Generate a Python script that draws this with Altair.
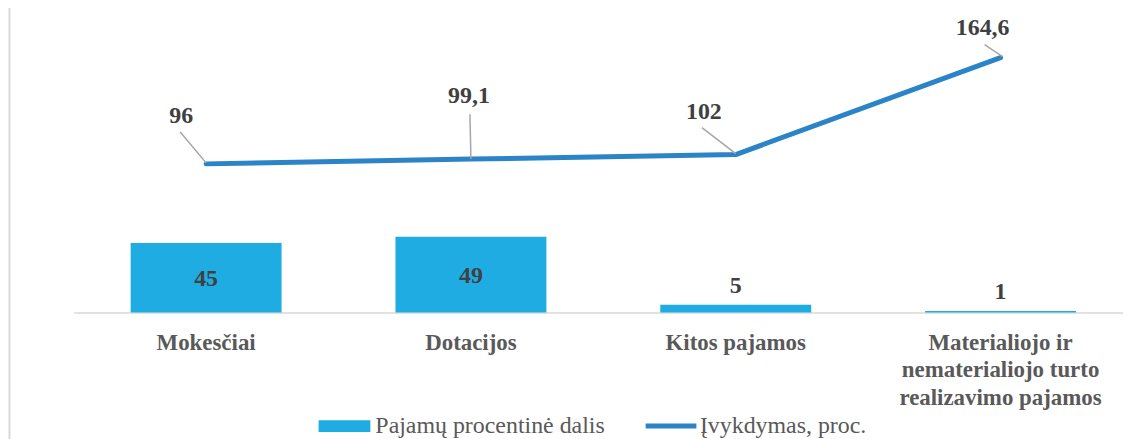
import altair as alt
import pandas as pd

# ---- data ----
CATEGORIES = ["Mokesčiai", "Dotacijos", "Kitos pajamos",
              "Materialiojo ir\nnematerialiojo turto\nrealizavimo pajamos"]
SHARE = [45, 49, 5, 1]                      # Pajamų procentinė dalis
PERFORMANCE = [96, 99.1, 102, 164.6]        # Įvykdymas, proc.
PERF_LABELS = ["96", "99,1", "102", "164,6"]
SERIES = ["Pajamų procentinė dalis", "Įvykdymas, proc."]

# ---- styles ----
BAR_COLOR = "#1FACE3"
LINE_COLOR = "#2B84C7"
LEADER_COLOR = "#A6A6A6"
FONT = "Liberation Serif"
# (leader start dx, dy, leader end dx, dy, label dx, dy) in pixels relative to each point
LEADERS = [(-26, -32, 0, -1, -25, -48),
           (-1, -45, 0, 0, -2, -63),
           (-34, -27, 0, -1, -32, -43),
           (-16, -13, 2, -1, -18, -30)]

df = pd.DataFrame({
    "idx": list(range(len(CATEGORIES))),
    "cat": CATEGORIES,
    "share": SHARE,
    "perf": PERFORMANCE,
    "perf_label": PERF_LABELS,
    "s1": SERIES[0],
    "s2": SERIES[1],
})

H = 305
xscale = alt.Scale(range=[0, 1064], paddingInner=0.43, paddingOuter=0.215)
yscale = alt.Scale(domain=[0, 196], nice=False, zero=True)

X = alt.X("cat:N", sort=CATEGORIES, scale=xscale,
          axis=alt.Axis(title=None, labelAngle=0, labelFont=FONT, labelFontSize=23,
                        labelFontWeight="bold", labelColor="#595959", labelPadding=19,
                        labelLineHeight=27.5, labelExpr="split(datum.label, '\\n')",
                        ticks=False, tickSize=0, domainColor="#D9D9D9", domainWidth=1.5,
                        labelLimit=0, grid=False))

base = alt.Chart(df)

bars = base.mark_bar().encode(
    x=X,
    y=alt.Y("share:Q", scale=yscale, axis=None),
    fill=alt.Fill("s1:N", scale=alt.Scale(domain=[SERIES[0]], range=[BAR_COLOR]),
                  legend=alt.Legend(title=None, orient="none", legendX=246, legendY=393,
                                    symbolType="M-1,-0.23L1,-0.23L1,0.23L-1,0.23Z",
                                    symbolSize=2704, symbolStrokeWidth=0,
                                    labelFont=FONT, labelFontSize=24, labelColor="#595959",
                                    labelOffset=5, padding=0, labelLimit=0)),
)

bar_big = base.transform_filter("datum.share >= 10").transform_calculate(
    mid="datum.share / 2").mark_text(
    font=FONT, fontSize=24, fontWeight="bold", color="#404040", baseline="middle", dy=1
).encode(x=alt.X("cat:N", sort=CATEGORIES), y=alt.Y("mid:Q", scale=yscale), text="share:Q")

bar_small = base.transform_filter("datum.share < 10").mark_text(
    font=FONT, fontSize=24, fontWeight="bold", color="#404040", baseline="middle", dy=-19
).encode(x=alt.X("cat:N", sort=CATEGORIES), y=alt.Y("share:Q", scale=yscale), text="share:Q")

line = base.mark_line(strokeWidth=5, strokeCap="round", strokeJoin="round").encode(
    x=alt.X("cat:N", sort=CATEGORIES),
    y=alt.Y("perf:Q", scale=yscale),
    stroke=alt.Stroke("s2:N", scale=alt.Scale(domain=[SERIES[1]], range=[LINE_COLOR]),
                      legend=alt.Legend(title=None, orient="none", legendX=572, legendY=391,
                                        symbolType="M-1,0L1,0", symbolSize=2601,
                                        symbolStrokeWidth=5,
                                        labelFont=FONT, labelFontSize=24, labelColor="#595959",
                                        labelOffset=1, padding=0, labelLimit=0)),
)

layers = [bars, bar_big, bar_small, line]
for i, (x1, y1, x2, y2, ldx, ldy) in enumerate(LEADERS):
    sub = base.transform_filter(f"datum.idx == {i}")
    rule = sub.mark_rule(color=LEADER_COLOR, strokeWidth=1.5, xOffset=x1, yOffset=y1,
                         x2Offset=x2, y2Offset=y2).encode(
        x=alt.X("cat:N", sort=CATEGORIES), x2="cat:N",
        y=alt.Y("perf:Q", scale=yscale), y2="perf:Q")
    txt = sub.mark_text(font=FONT, fontSize=24, fontWeight="bold", color="#404040",
                        baseline="middle", dx=ldx, dy=ldy).encode(
        x=alt.X("cat:N", sort=CATEGORIES), y=alt.Y("perf:Q", scale=yscale),
        text="perf_label:N")
    layers += [rule, txt]

frame = alt.Chart(pd.DataFrame({"a": [0]})).mark_rule(color="#D9D9D9", strokeWidth=2).encode(
    x=alt.value(-64.5), y=alt.value(-10), y2=alt.value(H + 140))
layers.append(frame)

chart = alt.layer(*layers).properties(
    width=1054, height=H,
    autosize=alt.AutoSizeParams(type="none"),
    padding={"left": 66, "top": 0, "right": 0, "bottom": 126},
    background="white",
).configure_view(stroke=None)

chart.save("out.html", embed_options={"renderer": "svg", "actions": False})
